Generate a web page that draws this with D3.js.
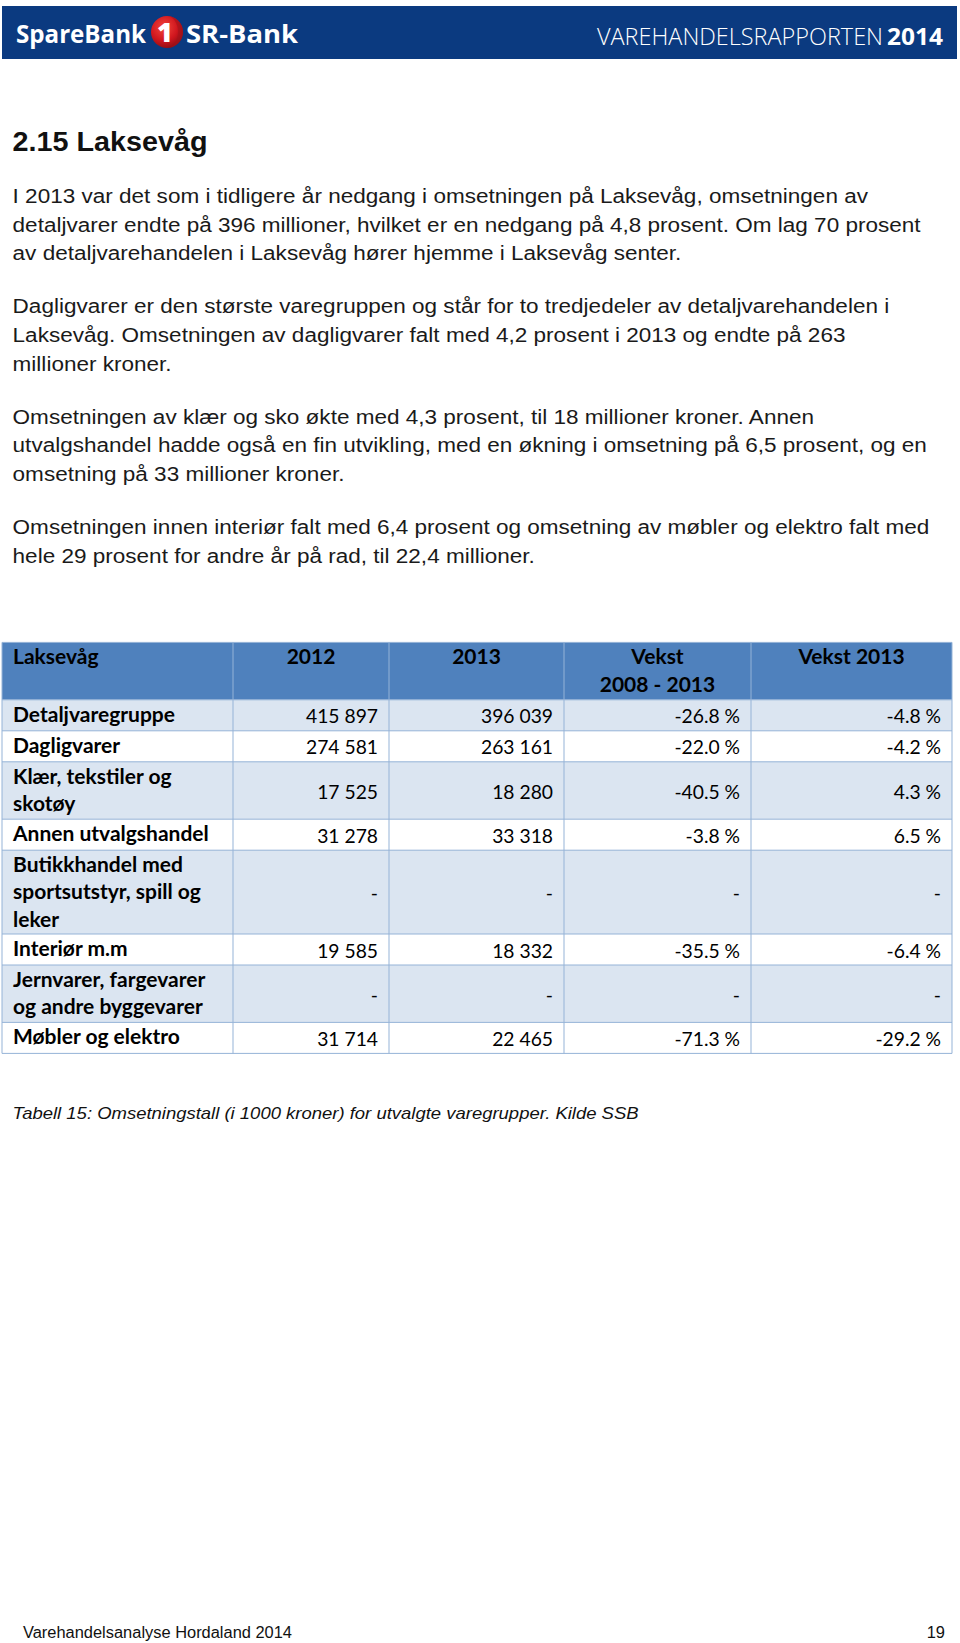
<!DOCTYPE html>
<html><head><meta charset="utf-8">
<script src="https://cdn.jsdelivr.net/npm/d3@7"></script>
<style>html,body{margin:0;padding:0;background:#fff;} svg{display:block;}</style>
</head><body><div id="chart"></div>
<script>
// ---------- DATA ----------
const categories = [
  "Detaljvaregruppe",
  "Dagligvarer",
  "Klær, tekstiler og\nskotøy",
  "Annen utvalgshandel",
  "Butikkhandel med\nsportsutstyr, spill og\nleker",
  "Interiør m.m",
  "Jernvarer, fargevarer\nog andre byggevarer",
  "Møbler og elektro"
];
const values2012 = [415897, 274581, 17525, 31278, null, 19585, null, 31714];
const values2013 = [396039, 263161, 18280, 33318, null, 18332, null, 22465];
const growth2008to2013 = [-26.8, -22.0, -40.5, -3.8, null, -35.5, null, -71.3];
const growth2013 = [-4.8, -4.2, 4.3, 6.5, null, -6.4, null, -29.2];
const headers = ["Laksevåg", "2012", "2013", "Vekst\n2008 - 2013", "Vekst 2013"];

const heading = "2.15 Laksevåg";
const paragraphs = [
  ["I 2013 var det som i tidligere år nedgang i omsetningen på Laksevåg, omsetningen av",
   "detaljvarer endte på 396 millioner, hvilket er en nedgang på 4,8 prosent. Om lag 70 prosent",
   "av detaljvarehandelen i Laksevåg hører hjemme i Laksevåg senter."],
  ["Dagligvarer er den største varegruppen og står for to tredjedeler av detaljvarehandelen i",
   "Laksevåg.  Omsetningen av dagligvarer falt med 4,2 prosent i 2013 og endte på 263",
   "millioner kroner."],
  ["Omsetningen av klær og sko økte med 4,3 prosent, til 18 millioner kroner. Annen",
   "utvalgshandel hadde også en fin utvikling, med en økning i omsetning på 6,5 prosent, og en",
   "omsetning på 33 millioner kroner."],
  ["Omsetningen innen interiør falt med 6,4 prosent og omsetning av møbler og elektro falt med",
   "hele 29 prosent for andre år på rad, til 22,4 millioner."]
];
const caption = "Tabell 15: Omsetningstall (i 1000 kroner) for utvalgte varegrupper. Kilde SSB";
const footerLeft = "Varehandelsanalyse Hordaland 2014";
const pageNumber = "19";
const brandNames = ["SpareBank", "1", "SR-Bank"];
const reportTitle = ["VAREHANDELSRAPPORTEN", "2014"];

// ---------- SETUP ----------
const W = 960, H = 1643;
const svg = d3.select("#chart").append("svg").attr("width", W).attr("height", H);
svg.append("rect").attr("width", W).attr("height", H).attr("fill", "#fff");

const BODY = "'Liberation Sans', Arial, Helvetica, sans-serif";
const TABLE = "Lato, Carlito, Calibri, sans-serif";
const BRAND = "'Open Sans', 'Liberation Sans', sans-serif";

function styleText(t, o) {
  t.attr("font-family", o.family).attr("font-size", o.size)
   .attr("font-weight", o.weight || 400).attr("font-style", o.style || "normal")
   .attr("fill", o.fill || "#000");
  return t;
}
function kFor(o, str, refW) {
  const t = styleText(svg.append("text").text(str), o);
  const w = t.node().getComputedTextLength();
  t.remove();
  return refW / w;
}
function put(g, str, x, y, o, k, anchor) {
  const t = styleText(g.append("text").text(str), o).attr("y", y);
  const w = t.node().getComputedTextLength() * k;
  t.attr("textLength", w).attr("lengthAdjust", "spacingAndGlyphs");
  const x0 = anchor === "end" ? x - w : anchor === "middle" ? x - w / 2 : x;
  t.attr("x", x0);
  return t;
}

// ---------- BANNER ----------
const banner = svg.append("g");
banner.append("rect").attr("x", 2).attr("y", 6).attr("width", 955).attr("height", 53).attr("fill", "#0b3a80");
const fBrand = {family: BRAND, size: 25, weight: 700, fill: "#fff"};
put(banner, brandNames[0], 16, 43, fBrand, kFor(fBrand, brandNames[0], 130), "start");
put(banner, brandNames[2], 186, 43, fBrand, kFor(fBrand, brandNames[2], 112), "start");
const defs = svg.append("defs");
const rg = defs.append("radialGradient").attr("id", "logoRed").attr("cx", "40%").attr("cy", "35%").attr("r", "70%");
rg.append("stop").attr("offset", "0%").attr("stop-color", "#f2463c");
rg.append("stop").attr("offset", "60%").attr("stop-color", "#d0161e");
rg.append("stop").attr("offset", "100%").attr("stop-color", "#8a0d12");
banner.append("circle").attr("cx", 167).attr("cy", 32).attr("r", 16).attr("fill", "url(#logoRed)");
banner.append("path").attr("d", "M167,16 A16,16 0 0,1 167,48 A11,16 0 0,0 167,16 Z").attr("fill", "#a3121a").attr("opacity", 0.6);
const fOne = {family: BRAND, size: 27, weight: 800, fill: "#fff"};
put(banner, brandNames[1], 165, 42, fOne, 1, "middle");
const fRep = {family: BRAND, size: 24, weight: 300, fill: "#fff"};
put(banner, reportTitle[0], 597, 45, fRep, kFor(fRep, reportTitle[0], 286), "start");
const fRepB = {family: BRAND, size: 24, weight: 700, fill: "#fff"};
put(banner, reportTitle[1], 887, 45, fRepB, kFor(fRepB, reportTitle[1], 56), "start");

// ---------- HEADING + BODY ----------
const fHead = {family: BODY, size: 28, weight: 700, fill: "#111"};
put(svg, heading, 12.6, 151, fHead, kFor(fHead, heading, 195), "start");

const fBody = {family: BODY, size: 20, weight: 400, fill: "#1a1a1a"};
const kBody = kFor(fBody, paragraphs[0][1], 908);
let li = 0;
paragraphs.forEach((para, pi) => {
  para.forEach(line => {
    put(svg, line, 12.6, 203 + li * 28.6 + pi * 24.5, fBody, kBody, "start");
    li++;
  });
});

// ---------- TABLE ----------
const colEdges = [2, 233, 389, 564, 751, 952];
const tableTop = 642.4;
const lineH = 26.4, pad = 4.6;
const fLabel = {family: TABLE, size: 20, weight: 700, fill: "#000"};
const fNum = {family: TABLE, size: 20, weight: 400, fill: "#000"};
const kLabel = kFor(fLabel, "Detaljvaregruppe", 162);
const kNum = kFor(fNum, "415 897", 72);

const loc = d3.formatLocale({decimal: ".", thousands: " ", grouping: [3], currency: ["", ""], minus: "-"});
const fmtInt = loc.format(",d");
const fmtPct = loc.format(".1f");

const rows = categories.map((c, i) => ({
  lines: c.split("\n"),
  cells: [
    values2012[i] == null ? "-" : fmtInt(values2012[i]),
    values2013[i] == null ? "-" : fmtInt(values2013[i]),
    growth2008to2013[i] == null ? "-" : fmtPct(growth2008to2013[i]) + " %",
    growth2013[i] == null ? "-" : fmtPct(growth2013[i]) + " %"
  ]
}));
const headerLines = headers.map(h => h.split("\n"));
const headerH = d3.max(headerLines, l => l.length) * lineH + pad;
const rowHs = rows.map(r => r.lines.length * lineH + pad);
const rowTops = [];
let acc = tableTop + headerH;
rowHs.forEach(h => { rowTops.push(acc); acc += h; });
const tableBottom = acc;

const x = d3.scaleOrdinal().domain(d3.range(colEdges.length)).range(colEdges);
const tg = svg.append("g");

tg.append("rect").attr("x", x(0)).attr("y", tableTop).attr("width", x(5) - x(0)).attr("height", headerH).attr("fill", "#4f81bd");
tg.selectAll("rect.row").data(rows).join("rect").attr("class", "row")
  .attr("x", x(0)).attr("y", (d, i) => rowTops[i]).attr("width", x(5) - x(0))
  .attr("height", (d, i) => rowHs[i]).attr("fill", (d, i) => i % 2 === 0 ? "#dbe5f1" : "#ffffff");

const hLines = [tableTop, tableTop + headerH].concat(rowTops.slice(1), [tableBottom]);
tg.selectAll("line.h").data(hLines).join("line").attr("class", "h")
  .attr("x1", x(0)).attr("x2", x(5)).attr("y1", d => d).attr("y2", d => d)
  .attr("stroke", "#95b3d7").attr("stroke-width", 1);
tg.selectAll("line.v").data(d3.range(colEdges.length)).join("line").attr("class", "v")
  .attr("x1", d => x(d)).attr("x2", d => x(d)).attr("y1", tableTop).attr("y2", tableBottom)
  .attr("stroke", "#95b3d7").attr("stroke-width", 1);

headerLines.forEach((lines, c) => {
  lines.forEach((ln, j) => {
    const y = tableTop + 22 + j * 27.3;
    if (c === 0) put(tg, ln, x(0) + 11, y, fLabel, kLabel, "start");
    else put(tg, ln, (x(c) + x(c + 1)) / 2, y, fLabel, kLabel, "middle");
  });
});

rows.forEach((r, i) => {
  const top = rowTops[i], h = rowHs[i];
  r.lines.forEach((ln, j) => put(tg, ln, x(0) + 11, top + 22 + j * 27.2, fLabel, kLabel, "start"));
  r.cells.forEach((v, c) => {
    put(tg, v, x(c + 2) - 11, top + h / 2 + 8, fNum, kNum, "end");
  });
});

// ---------- CAPTION + FOOTER ----------
const fCap = {family: BODY, size: 17, style: "italic", fill: "#111"};
put(svg, caption, 12.6, 1119, fCap, kFor(fCap, caption, 626), "start");
const fFoot = {family: BODY, size: 16, fill: "#111"};
const kFoot = kFor(fFoot, footerLeft, 269);
put(svg, footerLeft, 23, 1638, fFoot, kFoot, "start");
put(svg, pageNumber, 945, 1638, fFoot, kFoot, "end");
</script>
</body></html>
